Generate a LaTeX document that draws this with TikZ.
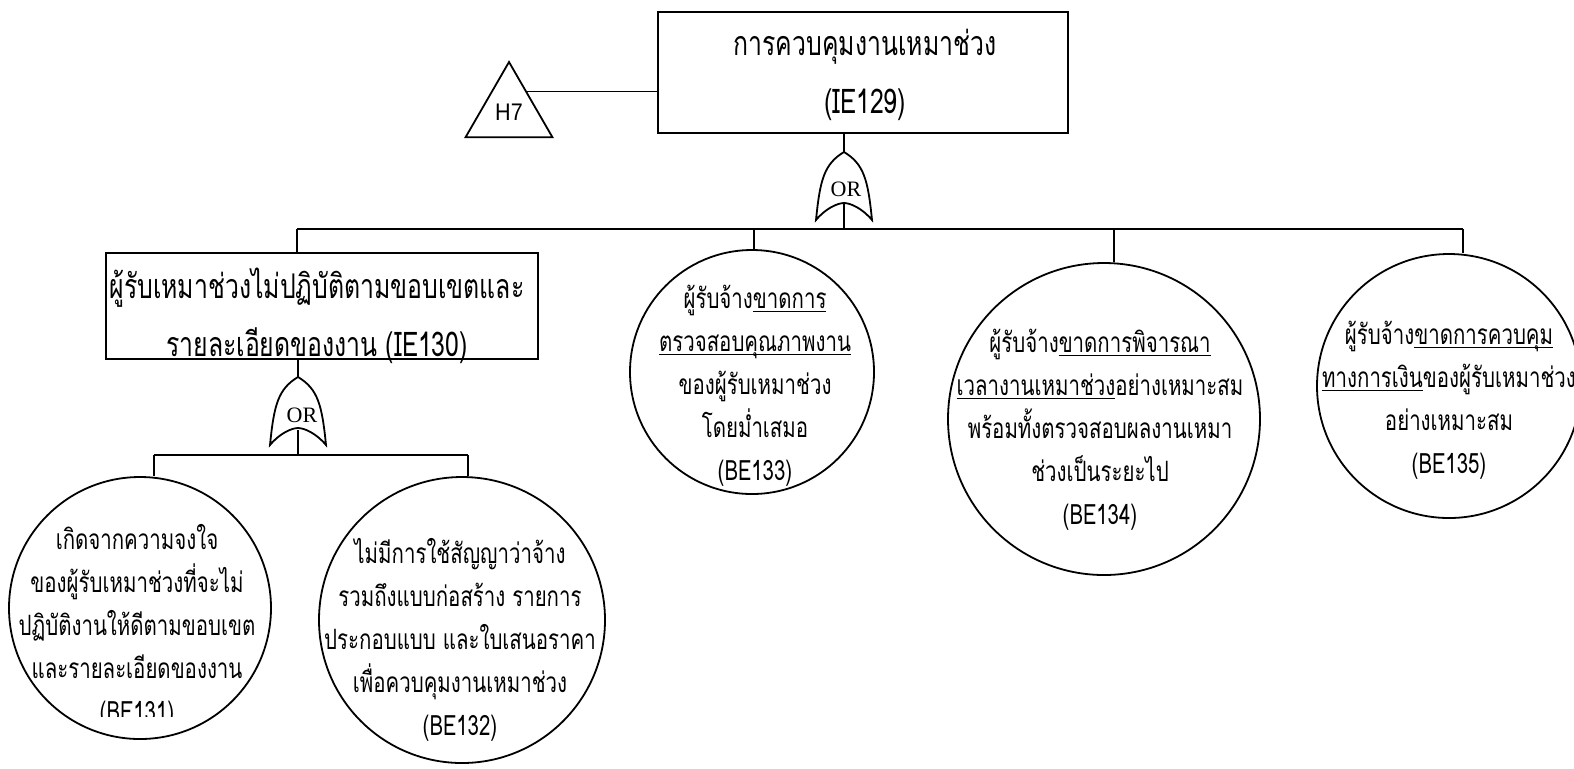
\documentclass[tikz,border=0pt]{standalone}
\usepackage{fontspec}
\newfontfamily\thaifont[Script=Thai,FakeStretch=0.73]{Loma}
\newfontfamily\orfont{Liberation Serif}
\newfontfamily\hfont[FakeStretch=0.9]{Liberation Sans}
\usetikzlibrary{shapes.geometric,calc}
\newcommand{\ul}[1]{\underline{\smash{#1}}}
\tikzset{
  wire/.style={line width=0.9pt},
  evbox/.style={draw,line width=0.9pt,inner sep=0pt},
  bevent/.style={draw,circle,line width=0.9pt,inner sep=0pt},
  evtext/.style={align=center,inner sep=0pt,font=\thaifont\fontsize{17}{29}\selectfont},
  betext/.style={align=center,inner sep=0pt,font=\thaifont\fontsize{14}{21.5}\selectfont},
  orlab/.style={inner sep=0pt,font=\orfont\fontsize{11}{12}\selectfont},
  xfer/.style={draw,regular polygon,regular polygon sides=3,minimum size=50.2pt,inner sep=0pt,line width=0.9pt,font=\hfont\fontsize{12}{13}\selectfont},
}
\newcommand{\orgate}[1]{\draw[wire,shift={(#1)}] (0,0) .. controls (20,12) and (24,28) .. (28,68) .. controls (18,56) and (6,51) .. (0,51) .. controls (-6,51) and (-18,56) .. (-28,68) .. controls (-24,28) and (-20,12) .. cycle;}
\begin{document}
\begin{tikzpicture}[x=0.5pt,y=-0.5pt]
\useasboundingbox (0,0) rectangle (1574,768);
% top event
\node[evbox,minimum width=205pt,minimum height=60.5pt] (top) at (863,72.5) {};
\node[evtext] (topt) at (865,75) {การควบคุมงานเหมาช่วง\\(IE129)};
\node[xfer] (h7) at (509,112.2) {\raisebox{-3pt}{H7}};
\coordinate (h7r) at ($(h7.corner 1)!0.4!(h7.corner 3)$);
\draw[wire] (h7r) -- (h7r -| top.west);
% gate under top
\coordinate (g1) at (844,152);
\orgate{g1}
\node[orlab] (or1) at ($(g1)+(2,37)$) {OR};
\draw[wire] (top.south -| g1) -- (g1);
\coordinate (d130) at (297,229);
\coordinate (d133) at (754,229);
\coordinate (d134) at (1114,229);
\coordinate (d135) at (1463,229);
\draw[wire] ($(g1)+(0,51)$) -- (g1 |- d130);
\draw[wire] (d130) -- (d135);
% IE130
\node[evbox,minimum width=216pt,minimum height=53pt] (ie130) at (322,306) {};
\node[evtext] (ie130t) at (317,316) {ผู้รับเหมาช่วงไม่ปฏิบัติตามขอบเขตและ\\รายละเอียดของงาน (IE130)};
\draw[wire] (d130) -- (d130 |- ie130.north);
\coordinate (g2) at (298,377);
\orgate{g2}
\node[orlab] (or2) at ($(g2)+(4,38)$) {OR};
\draw[wire] (ie130.south -| g2) -- (g2);
\coordinate (d131) at (154,455);
\coordinate (d132) at (468,455);
\draw[wire] ($(g2)+(0,53)$) -- (g2 |- d131);
\draw[wire] (d131) -- (d132);
% basic events
\node[bevent,minimum size=131pt] (be131) at (140,608) {};
\node[bevent,minimum size=143pt] (be132) at (462,620) {};
\node[bevent,minimum size=122pt] (be133) at (752,372) {};
\node[bevent,minimum size=156pt] (be134) at (1104,419) {};
\node[bevent,minimum size=132pt] (be135) at (1449,386) {};
\foreach \n in {131,132,133,134,135}{\draw[wire] (d\n) -- (d\n |- be\n.north);}
\begin{scope}
\clip (0,0) rectangle (320,716);
\node[betext] (be131t) at (137,626) {เกิดจากความจงใจ\\ของผู้รับเหมาช่วงที่จะไม่\\ปฏิบัติงานให้ดีตามขอบเขต\\และรายละเอียดของงาน\\(BE131)};
\end{scope}
\node[betext] (be132t) at (460,640) {ไม่มีการใช้สัญญาว่าจ้าง\\รวมถึงแบบก่อสร้าง รายการ\\ประกอบแบบ และใบเสนอราคา\\เพื่อควบคุมงานเหมาช่วง\\(BE132)};
\node[betext] (be133t) at (755,386) {ผู้รับจ้าง\ul{ขาดการ}\\\ul{ตรวจสอบคุณภาพงาน}\\ของผู้รับเหมาช่วง\\โดยม่ำเสมอ\\(BE133)};
\node[betext] (be134t) at (1100,430) {ผู้รับจ้าง\ul{ขาดการพิจารณา}\\\ul{เวลางานเหมาช่วง}อย่างเหมาะสม\\พร้อมทั้งตรวจสอบผลงานเหมา\\ช่วงเป็นระยะไป\\(BE134)};
\node[betext] (be135t) at (1449,400) {ผู้รับจ้าง\ul{ขาดการควบคุม}\\\ul{ทางการเงิน}ของผู้รับเหมาช่วง\\อย่างเหมาะสม\\(BE135)};
\end{tikzpicture}
\end{document}
